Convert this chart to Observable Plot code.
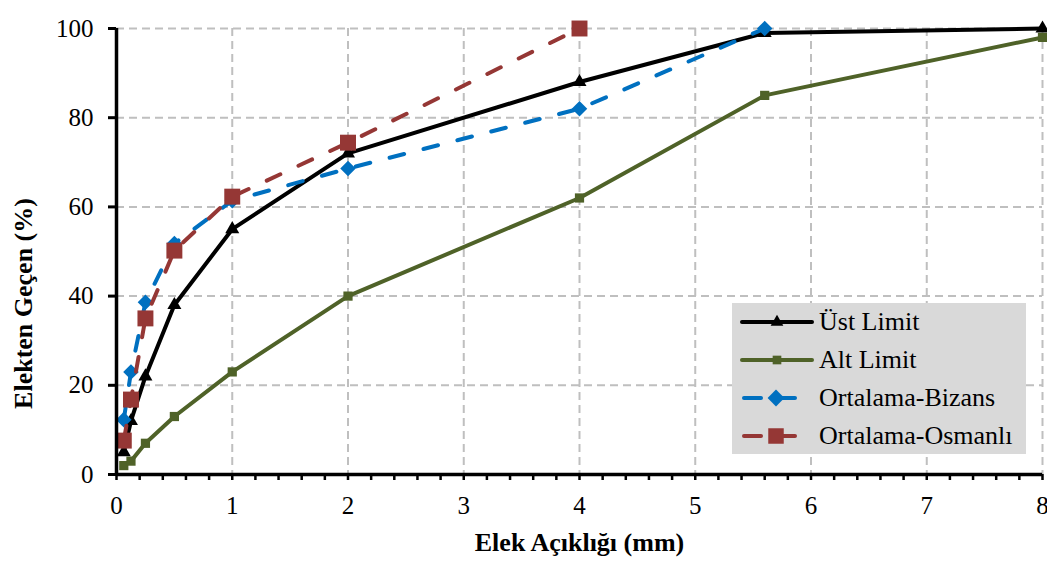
<!DOCTYPE html>
<html>
<head>
<meta charset="utf-8">
<script src="https://cdn.jsdelivr.net/npm/d3@7"></script>
<script src="https://cdn.jsdelivr.net/npm/@observablehq/plot@0.6"></script>
<style>
  body { margin: 0; background: #fff; }
  #wrap { position: relative; width: 1047px; height: 568px; font-family: "Liberation Serif", "Times New Roman", serif; }
  #legend { position: absolute; left: 732px; top: 303px; width: 294px; height: 151px; background: #d9d9d9; }
  #legend .row { position: absolute; left: 0; height: 38px; display: flex; align-items: center; }
  #legend .row span { font-size: 26px; color: #000; margin-left: 1px; line-height: 1; }
</style>
</head>
<body>
<div id="wrap"></div>
<script>
// ---- data ----
const sieveAll = [0.063, 0.125, 0.25, 0.5, 1, 2, 4, 5.6, 8];
const ustLimit = [5, 12, 22, 38, 55, 72, 88, 99, 100];
const altLimit = [2, 3, 7, 13, 23, 40, 62, 85, 98];
const sieveBizans = [0.063, 0.125, 0.25, 0.5, 1, 2, 4, 5.6];
const ortBizans = [12.3, 23, 38.6, 51.8, 61.4, 68.6, 82, 100];
const sieveOsmanli = [0.063, 0.125, 0.25, 0.5, 1, 2, 4];
const ortOsmanli = [7.6, 16.8, 35, 50.2, 62.3, 74.4, 100];
const xTicks = [0, 1, 2, 3, 4, 5, 6, 7, 8];
const yTicks = [0, 20, 40, 60, 80, 100];
const seriesNames = ["Üst Limit", "Alt Limit", "Ortalama-Bizans", "Ortalama-Osmanlı"];
const xTitle = "Elek Açıklığı (mm)";
const yTitle = "Elekten Geçen (%)";

// ---- styles ----
const styles = [
  {color: "#000000", dash: null, symbol: "triangle", r: 5.2, legendSize: 70},
  {color: "#4f6228", dash: null, symbol: "square", r: 5.2, legendSize: 75},
  {color: "#0070c0", dash: "15,20", symbol: "diamond2", r: 7, legendSize: 180},
  {color: "#953735", dash: "15,20", symbol: "square", r: 9, legendSize: 240}
];

const toRows = (xs, ys) => xs.map((x, i) => ({x, y: ys[i]}));
const series = [
  toRows(sieveAll, ustLimit),
  toRows(sieveAll, altLimit),
  toRows(sieveBizans, ortBizans),
  toRows(sieveOsmanli, ortOsmanli)
];

const minorTicks = d3.range(0, 41).map(i => i / 5);

const marks = [
  Plot.gridX(xTicks.slice(1), {stroke: "#bfbfbf", strokeOpacity: 1, strokeWidth: 2, strokeDasharray: "8,5"}),
  Plot.gridY(yTicks.slice(1), {stroke: "#bfbfbf", strokeOpacity: 1, strokeWidth: 2, strokeDasharray: "8,5"}),
];
series.forEach((rows, i) => {
  const s = styles[i];
  marks.push(Plot.line(rows, {x: "x", y: "y", stroke: s.color, strokeWidth: 4,
    strokeDasharray: s.dash || undefined, strokeLinecap: s.dash ? "round" : "butt", strokeLinejoin: "round"}));
  marks.push(Plot.dot(rows, {x: "x", y: "y", symbol: () => s.symbol, fill: s.color, stroke: "none", r: s.r}));
});
marks.push(
  Plot.axisY({ticks: yTicks, tickSize: 8, tickPadding: 15, fontSize: 25, strokeWidth: 3, label: null}),
  Plot.axisX({ticks: minorTicks, tickSize: 6, strokeWidth: 2.5, text: null, label: null}),
  Plot.axisX({ticks: xTicks, tickSize: 0, tickPadding: 22, fontSize: 25, label: null}),
  Plot.ruleX([0], {strokeWidth: 3.5}),
  Plot.ruleY([0], {strokeWidth: 3.5}),
  Plot.text([xTitle], {frameAnchor: "bottom", lineAnchor: "middle", dy: 68, fontSize: 26, fontWeight: "bold", textAnchor: "middle"}),
  Plot.text([yTitle], {frameAnchor: "left", lineAnchor: "middle", dx: -93, dy: 52, rotate: -90, fontSize: 26, fontWeight: "bold", textAnchor: "middle"})
);

const chart = Plot.plot({
  width: 1047,
  height: 568,
  marginLeft: 116,
  marginRight: 5,
  marginTop: 28,
  marginBottom: 94,
  x: {domain: [0, 8]},
  y: {domain: [0, 100]},
  symbol: {type: "identity"},
  style: {fontFamily: "'Liberation Serif', 'Times New Roman', serif", background: "#fff", color: "#000", overflow: "visible"},
  marks
});
const wrap = document.getElementById("wrap");
wrap.appendChild(chart);

// ---- legend (inside plot area, HTML overlay) ----
const legend = document.createElement("div");
legend.id = "legend";
const ns = "http://www.w3.org/2000/svg";
const symMap = {triangle: d3.symbolTriangle, square: d3.symbolSquare, diamond2: d3.symbolDiamond2};
seriesNames.forEach((name, i) => {
  const s = styles[i];
  const row = document.createElement("div");
  row.className = "row";
  row.style.top = (i * 38) + "px";
  const svg = document.createElementNS(ns, "svg");
  svg.setAttribute("width", "86");
  svg.setAttribute("height", "38");
  const addLine = (x1, x2) => {
    const l = document.createElementNS(ns, "line");
    l.setAttribute("x1", x1); l.setAttribute("x2", x2);
    l.setAttribute("y1", 19); l.setAttribute("y2", 19);
    l.setAttribute("stroke", s.color); l.setAttribute("stroke-width", 4);
    l.setAttribute("stroke-linecap", "round");
    svg.appendChild(l);
  };
  if (s.dash) { addLine(12, 29); addLine(46, 63); } else { addLine(10, 80); }
  const path = document.createElementNS(ns, "path");
  path.setAttribute("d", d3.symbol(symMap[s.symbol], s.legendSize)());
  path.setAttribute("transform", `translate(${s.dash ? 44 : 45},19)`);
  path.setAttribute("fill", s.color);
  svg.appendChild(path);
  row.appendChild(svg);
  const span = document.createElement("span");
  span.textContent = name;
  row.appendChild(span);
  legend.appendChild(row);
});
wrap.appendChild(legend);
</script>
</body>
</html>
